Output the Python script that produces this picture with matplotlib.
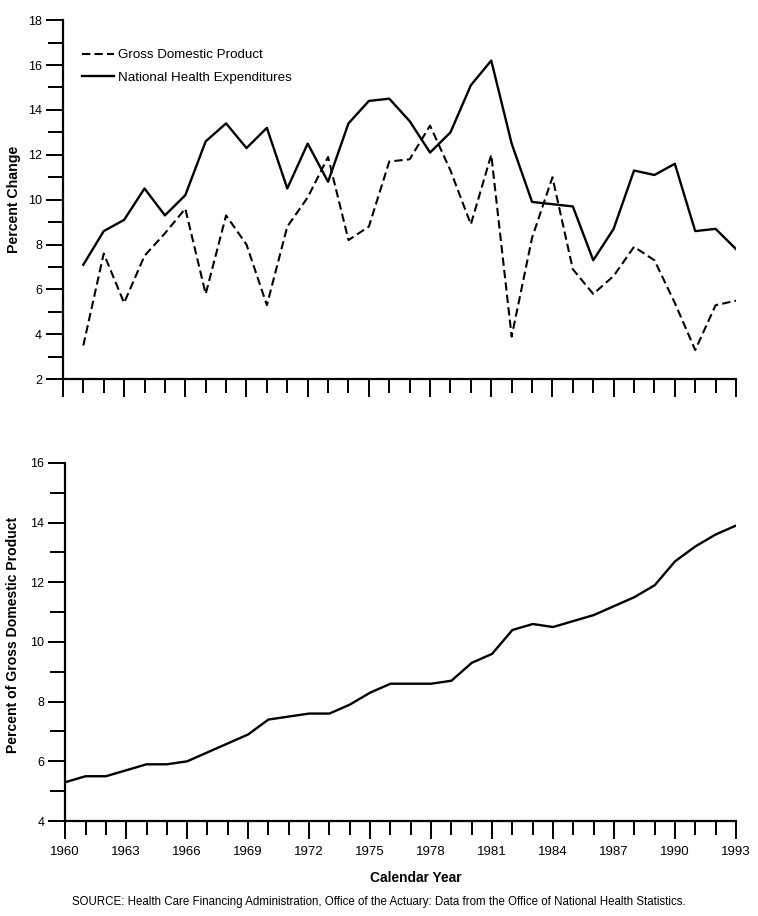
import matplotlib
matplotlib.use("Agg")
import matplotlib.pyplot as plt
from matplotlib.ticker import MultipleLocator

plt.rcParams['font.family'] = ['Liberation Sans', 'DejaVu Sans']

years_top = list(range(1961, 1994))
gdp_change = [3.5, 7.6, 5.4, 7.5, 8.5, 9.6, 5.8, 9.3, 8.0, 5.3, 8.8, 10.1, 11.9, 8.2, 8.8,
              11.7, 11.8, 13.3, 11.3, 8.9, 12.0, 3.9, 8.3, 11.0, 6.9, 5.8, 6.6, 7.9, 7.3,
              5.4, 3.3, 5.3, 5.5]
nhe_change = [7.1, 8.6, 9.1, 10.5, 9.3, 10.2, 12.6, 13.4, 12.3, 13.2, 10.5, 12.5, 10.8, 13.4,
              14.4, 14.5, 13.5, 12.1, 13.0, 15.1, 16.2, 12.5, 9.9, 9.8, 9.7, 7.3, 8.7, 11.3,
              11.1, 11.6, 8.6, 8.7, 7.8]

years_bottom = list(range(1960, 1994))
nhe_share = [5.3, 5.5, 5.5, 5.7, 5.9, 5.9, 6.0, 6.3, 6.6, 6.9, 7.4, 7.5, 7.6, 7.6, 7.9,
             8.3, 8.6, 8.6, 8.6, 8.7, 9.3, 9.6, 10.4, 10.6, 10.5, 10.7, 10.9, 11.2, 11.5,
             11.9, 12.7, 13.2, 13.6, 13.9]

xtick_years = list(range(1960, 1994, 3))
xtick_labels = [str(y) for y in xtick_years]

fig = plt.figure(figsize=(7.58, 9.16), dpi=100)
ax1 = fig.add_axes([0.083, 0.586, 0.888, 0.392])
ax2 = fig.add_axes([0.086, 0.1037, 0.885, 0.391])

fs = 9
for ax in (ax1, ax2):
    for s in ('top', 'right'):
        ax.spines[s].set_visible(False)
    for s in ('left', 'bottom'):
        ax.spines[s].set_linewidth(1.6)
    ax.set_xlim(1960, 1993)
    ax.set_xticks(xtick_years)
    ax.xaxis.set_minor_locator(MultipleLocator(1))
    ax.yaxis.set_major_locator(MultipleLocator(2))
    ax.yaxis.set_minor_locator(MultipleLocator(1))
    ax.tick_params(axis='y', which='major', direction='out', length=12, width=1.4, labelsize=fs, pad=3)
    ax.tick_params(axis='y', which='minor', direction='out', length=11, width=1.4)
    ax.tick_params(axis='x', which='major', direction='out', length=13, width=1.4, labelsize=fs + 0.5, pad=5)
    ax.tick_params(axis='x', which='minor', direction='out', length=10, width=1.4)

# Top panel
ax1.plot(years_top, gdp_change, color='black', lw=1.5, linestyle=(0, (4, 2)),
         label='Gross Domestic Product')
ax1.plot(years_top, nhe_change, color='black', lw=1.7, label='National Health Expenditures')
ax1.set_ylim(2, 18)
ax1.set_xticklabels([])
ax1.set_ylabel('Percent Change', fontsize=10.2, fontweight='bold')
ax1.yaxis.set_label_coords(-0.063, 0.5)
ax1.legend(loc='upper left', bbox_to_anchor=(0.017, 0.942), frameon=False,
           fontsize=9.6, handlelength=2.4, handletextpad=0.3, labelspacing=0.75,
           borderaxespad=0.2)

# Bottom panel
ax2.plot(years_bottom, nhe_share, color='black', lw=1.7)
ax2.set_ylim(4, 16)
ax2.set_xticklabels(xtick_labels)
ax2.set_ylabel('Percent of Gross Domestic Product', fontsize=10.1, fontweight='bold')
ax2.yaxis.set_label_coords(-0.067, 0.52)
ax2.set_xlabel('Calendar Year', fontsize=9.9, fontweight='bold')
ax2.xaxis.set_label_coords(0.522, -0.14)

fig.text(0.5, 0.009, 'SOURCE: Health Care Financing Administration, Office of the Actuary: '
         'Data from the Office of National Health Statistics.', ha='center', va='bottom',
         fontsize=8.3)

fig.savefig('out.png', dpi=100)
